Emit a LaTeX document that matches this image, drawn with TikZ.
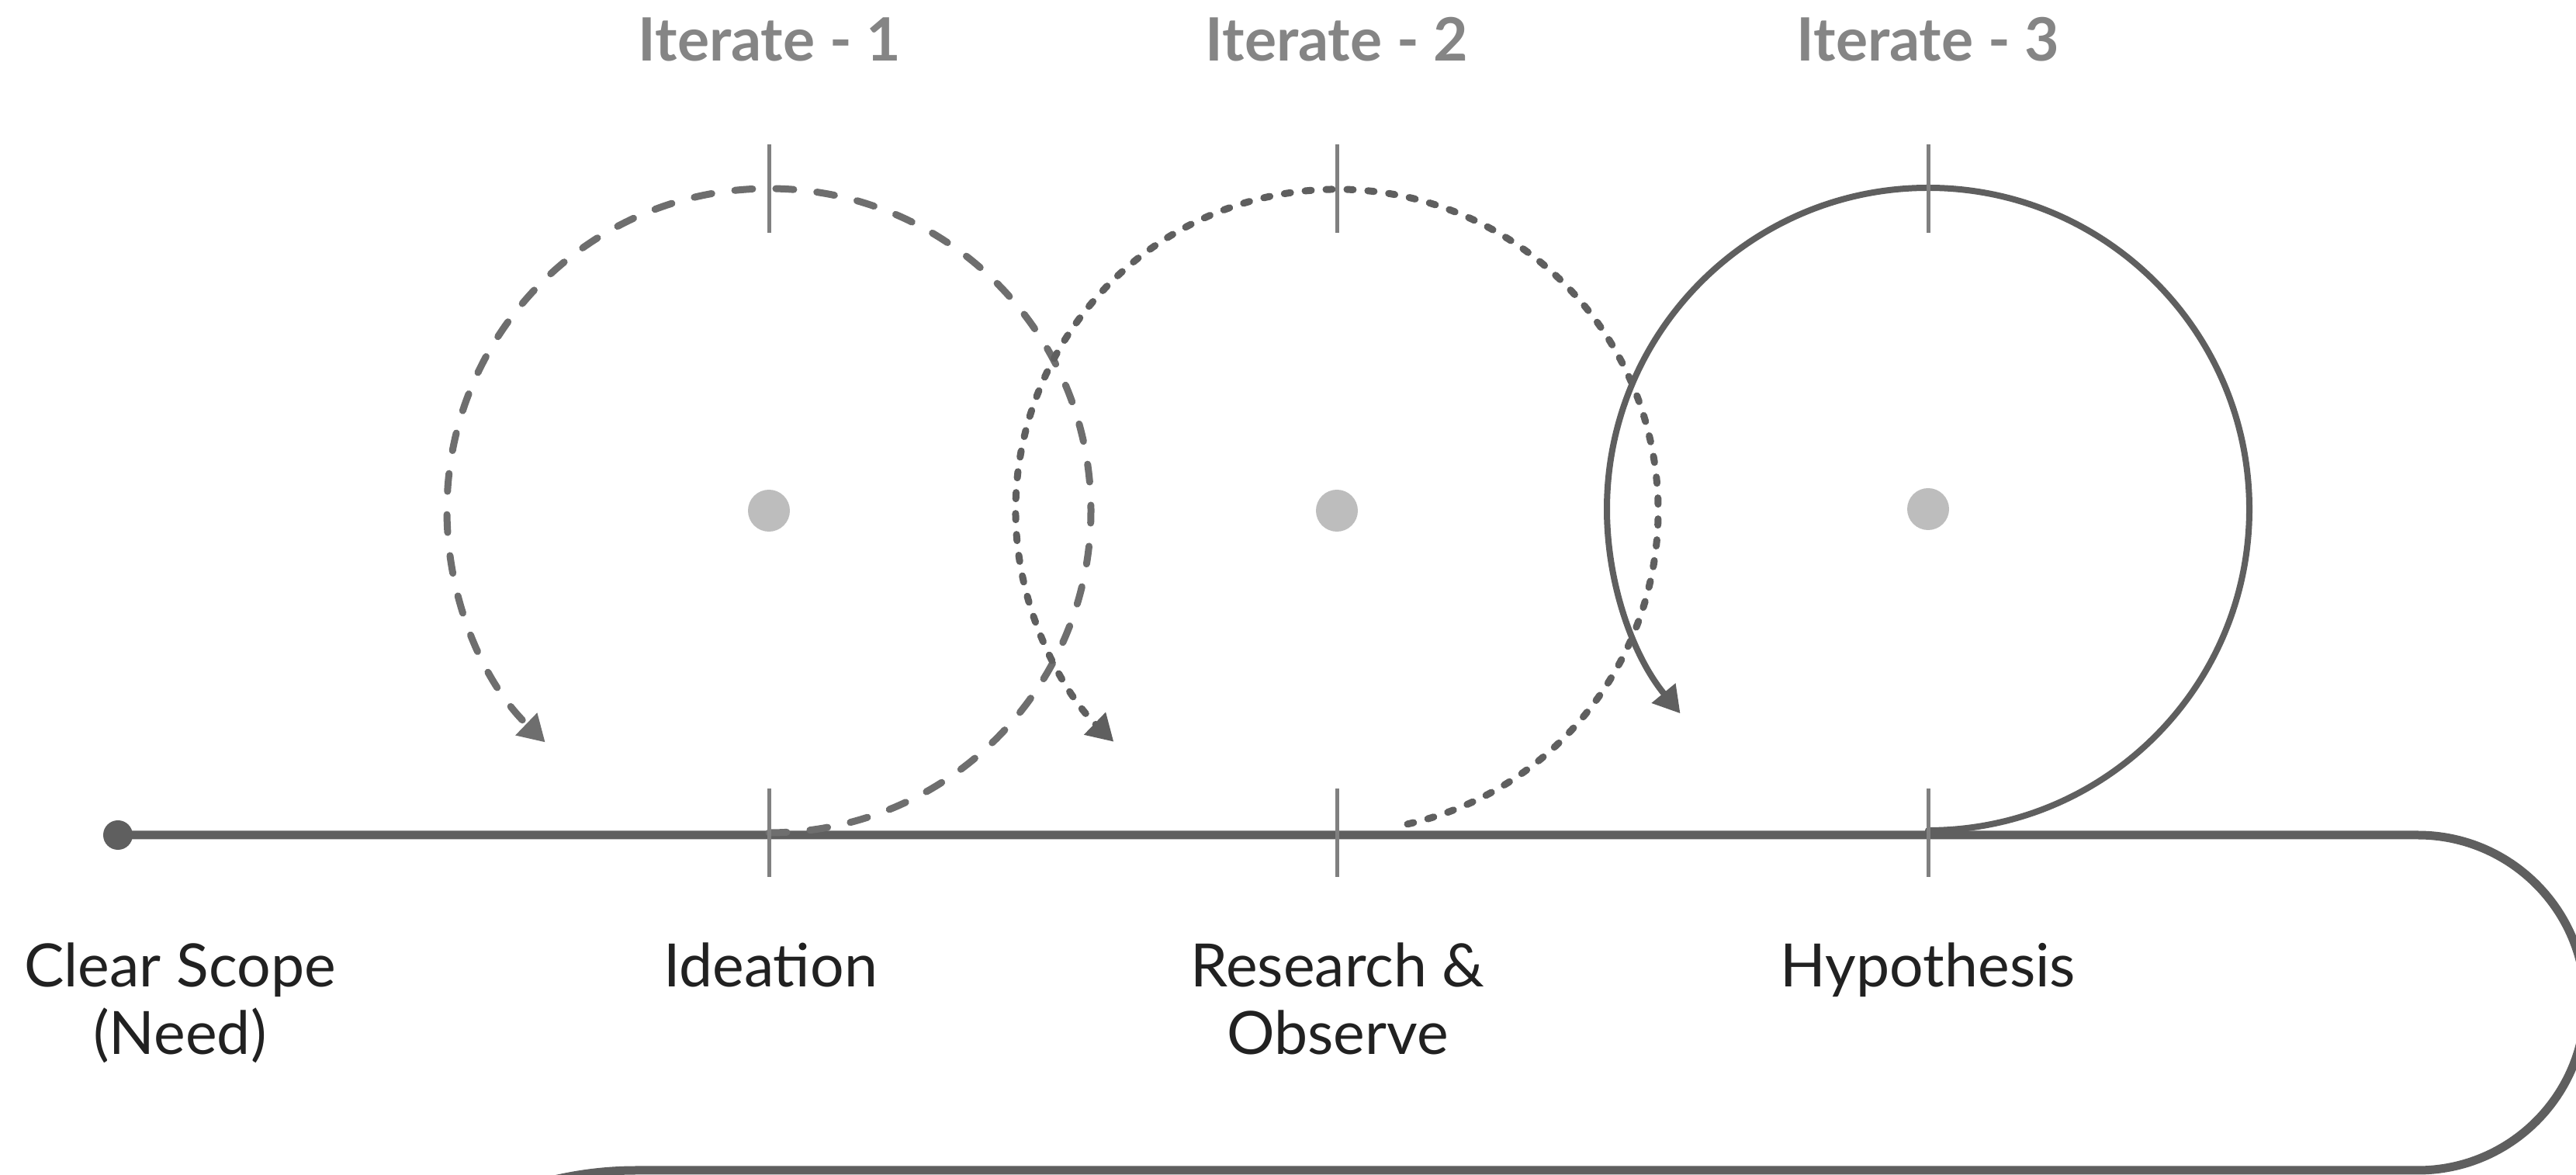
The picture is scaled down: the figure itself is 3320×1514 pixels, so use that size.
\documentclass[tikz,border=0pt]{standalone}
\usepackage{fontspec}
\setmainfont{Lato}
\usetikzlibrary{arrows.meta}
\definecolor{lineg}{HTML}{5F5F5F}
\definecolor{loopg}{HTML}{6E6E6E}
\definecolor{tickg}{HTML}{808080}
\definecolor{hubg}{HTML}{BDBDBD}
\definecolor{iterc}{HTML}{858585}
\definecolor{labelc}{HTML}{212121}
\tikzset{
  track/.style={draw=lineg, line width=11pt},
  tickmark/.style={draw=tickg, line width=5pt},
  looptip/.style={-{Triangle[length=34pt,width=38pt]}},
  loopA/.style={draw=loopg, line width=9pt, line cap=round, dash pattern=on 23pt off 30pt, looptip},
  loopB/.style={draw=lineg, line width=9pt, line cap=round, dash pattern=on 8pt off 19pt, looptip},
  loopC/.style={draw=lineg, line width=8pt, line cap=round, looptip},
  hub/.style={circle, fill=hubg, minimum size=54pt, inner sep=0pt},
  startdot/.style={circle, fill=lineg, minimum size=38pt, inner sep=0pt},
  lbl/.style={font=\fontsize{77}{90}\selectfont, text=labelc, anchor=base, inner sep=0pt},
  iter/.style={font=\fontsize{77}{90}\selectfont\bfseries, text=iterc, anchor=base, inner sep=0pt}
}
\begin{document}
\begin{tikzpicture}[x=1pt,y=1pt]
\clip (0,0) rectangle (3320,1514);
\fill[white] (0,0) rectangle (3320,1514);

% coordinates
\coordinate (c1) at (991,856);
\coordinate (c2) at (1723,856);
\coordinate (c3) at (2485,858);
\coordinate (bend1) at (3116,438);
\coordinate (bend2) at (820,6);

% main track
\node[startdot] (start) at (152,438) {};
\draw[track] (start.center) -- (bend1) arc[start angle=90, end angle=-90, radius=216] -- (bend2) arc[start angle=90, end angle=120, radius=470];

% loops
\draw[loopA] ([shift={(-90:415)}]c1) arc[start angle=-90, end angle=226, radius=415];
\draw[loopB] ([shift={(-77.3:414)}]c2) arc[start angle=-77.3, end angle=226, radius=414];
\draw[loopC] ([shift={(-90:414)}]c3) arc[start angle=-90, end angle=219.5, radius=414];

% hubs
\node[hub] (h1) at (c1) {};
\node[hub] (h2) at (c2) {};
\node[hub] (h3) at (c3) {};

% ticks
\foreach \x/\n in {991/1,1723/2,2485/3}{
  \coordinate (tt\n a) at (\x,1214);
  \coordinate (tt\n b) at (\x,1328);
  \coordinate (bt\n a) at (\x,384);
  \coordinate (bt\n b) at (\x,498);
  \draw[tickmark] (tt\n a) -- (tt\n b);
  \draw[tickmark] (bt\n a) -- (bt\n b);
}

% labels
\node[iter] (it1) at (992,1435) {Iterate - 1};
\node[iter] (it2) at (1723,1435) {Iterate - 2};
\node[iter] (it3) at (2485,1435) {Iterate - 3};

\node[lbl] (cs1) at (232,242) {Clear Scope};
\node[lbl] (cs2) at (232,155) {(Need)};
\node[lbl] (idea) at (993,242) {Ideation};
\node[lbl] (ro1) at (1724,242) {Research \&};
\node[lbl] (ro2) at (1724,155) {Observe};
\node[lbl] (hyp) at (2485,242) {Hypothesis};
\end{tikzpicture}
\end{document}
